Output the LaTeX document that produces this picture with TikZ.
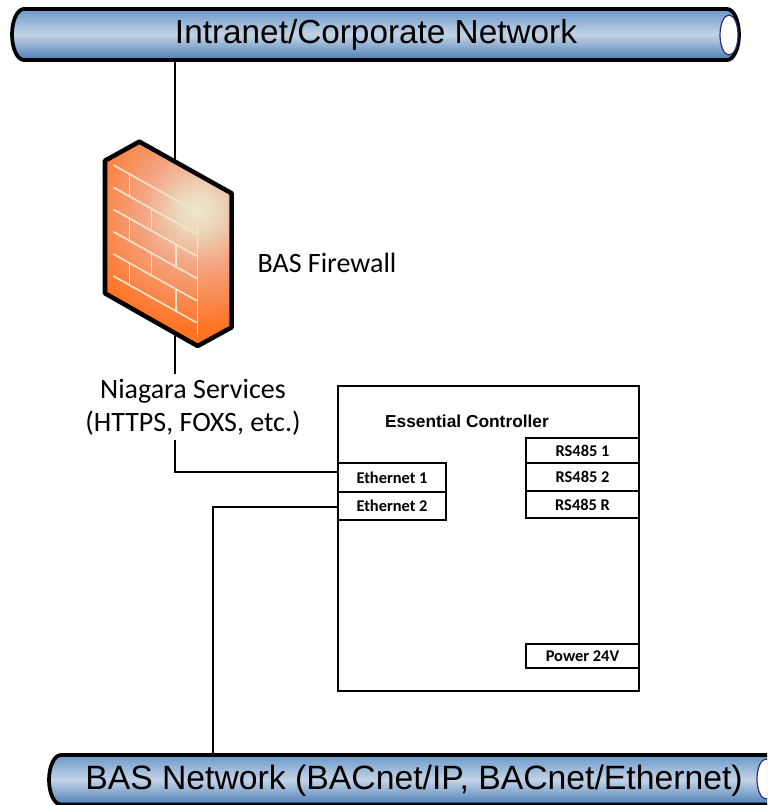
\documentclass[tikz,border=0pt]{standalone}
\usepackage{fontspec}
\setmainfont{Carlito}
\newfontfamily\arialfont{Liberation Sans}
\usetikzlibrary{positioning}

\definecolor{pipeEdge}{HTML}{6A98CA}
\definecolor{pipeGlow}{HTML}{C3D3E6}
\definecolor{pipeDeep}{HTML}{4C7FB6}
\definecolor{capLine}{HTML}{2E2E7A}
\definecolor{brickLine}{HTML}{EDE6CC}
\definecolor{brickPale}{HTML}{EBD9BE}
\definecolor{brickMid}{HTML}{F4A482}
\definecolor{brickHot}{HTML}{FF7325}

\pgfdeclareradialshading{brickglow}{\pgfpointorigin}{
    color(0bp)=(brickLine);
    color(3bp)=(brickPale);
    color(9bp)=(brickMid);
    color(19bp)=(brickHot);
    color(50bp)=(brickHot)}

\tikzset{
    pipebody/.style={draw=black, line width=2.8pt, top color=pipeEdge, bottom color=pipeDeep, middle color=pipeGlow},
    pipecap/.style={draw=capLine, line width=0.9pt, fill=white},
    pipetext/.style={font=\arialfont\fontsize{25}{25}\selectfont},
    wire/.style={draw=black, line width=1.05pt},
    mortar/.style={draw=brickLine, line width=1.2pt},
    portbox/.style={draw=black, line width=1.05pt, outer sep=0pt, inner sep=0pt, align=center, font=\bfseries\fontsize{12.3}{12.3}\selectfont},
    note/.style={align=center, font=\fontsize{21}{24.75}\selectfont}
}

\begin{document}
\begin{tikzpicture}[x=0.75pt, y=-0.75pt]
    \clip (0,0) rectangle (767,805);

    % top network
    \path[pipebody] (24,9) -- (727,9) arc[start angle=-90, end angle=90, x radius=12, y radius=25.5]
        -- (24,60) arc[start angle=90, end angle=270, x radius=12, y radius=25.5] -- cycle;
    \draw[pipecap] (729,35) ellipse[x radius=9, y radius=20];
    \node[pipetext] (intranet) at (376,35) {Intranet/Corporate Network};

    % bottom network
    \path[pipebody] (61,755) -- (780,755) -- (780,804.5) -- (61,804.5)
        arc[start angle=90, end angle=270, x radius=12, y radius=24.75] -- cycle;
    \draw[pipecap] (766,779) ellipse[x radius=9, y radius=20];
    \node[pipetext, font=\arialfont\fontsize{25.3}{25.3}\selectfont] (basnet) at (414,781) {BAS Network (BACnet/IP, BACnet/Ethernet)};

    % joins
    \coordinate (intranetJoin) at (175,60);
    \coordinate (wallIn) at (175,170);
    \coordinate (wallOut) at (175,335);
    \coordinate (basJoin) at (213,755);
    \coordinate (ethOneIn) at (338,472);
    \coordinate (ethTwoIn) at (338,507);

    % controller
    \node[portbox, minimum width=225.75pt, minimum height=228.75pt] (controller) at (488.5,538.5) {};
    \node[font=\arialfont\bfseries\fontsize{13}{13}\selectfont] (ctrlTitle) at (467,421) {Essential Controller};
    \node[portbox, minimum width=81pt, minimum height=21.75pt] (ethOne) at (392,477.5) {Ethernet 1};
    \node[portbox, minimum width=81pt, minimum height=21pt, below=0pt of ethOne] (ethTwo) {Ethernet 2};
    \node[portbox, minimum width=84.75pt, minimum height=18.75pt] (rsOne) at (582.5,450.5) {RS485 1};
    \node[portbox, minimum width=84.75pt, minimum height=21pt, below=0pt of rsOne] (rsTwo) {RS485 2};
    \node[portbox, minimum width=84.75pt, minimum height=20.25pt, below=0pt of rsTwo] (rsR) {RS485 R};
    \node[portbox, minimum width=84.75pt, minimum height=18pt] (power) at (582.5,656) {Power 24V};

    \node[note] (fwLabel) at (327,263) {BAS Firewall};
    \node[note] (niagara) at (193,407) {Niagara Services\\(HTTPS, FOXS, etc.)};

    % connectors
    \draw[wire] (intranetJoin) -- (wallIn);
    \draw[wire] (wallOut) -- (wallOut |- niagara.north);
    \draw[wire] (wallOut |- niagara.south) |- (ethOneIn);
    \draw[wire] (ethTwoIn) -| (basJoin);

    % firewall, in zoomed units
    \begin{scope}[shift={(80,130)}, x=0.25pt, y=-0.25pt]
        \begin{scope}
            \clip (178,35) -- (75,92) -- (75,490) -- (353,648) -- (455,592) -- (455,190) -- cycle;
            \path[shading=brickglow] (353,240) circle (470);
        \end{scope}
        \foreach \ya/\yb in {105/245, 172/312, 238/378, 305/445, 372/512, 438/578}
            \draw[mortar] (100,\ya) -- (350,\yb);
        \foreach \xa/\ya/\yb in {148/133/198, 215/238/298, 148/265/330, 288/345/412, 215/370/432, 148/398/463, 288/480/545}
            \draw[mortar] (\xa,\ya) -- (\xa,\yb);
        \draw[mortar] (353,245) -- (353,615);
        \draw[draw=black, line width=3.4pt, line join=round] (178,35) -- (75,92) -- (75,490) -- (353,648) -- (455,592) -- (455,190) -- cycle;
    \end{scope}
\end{tikzpicture}
\end{document}
